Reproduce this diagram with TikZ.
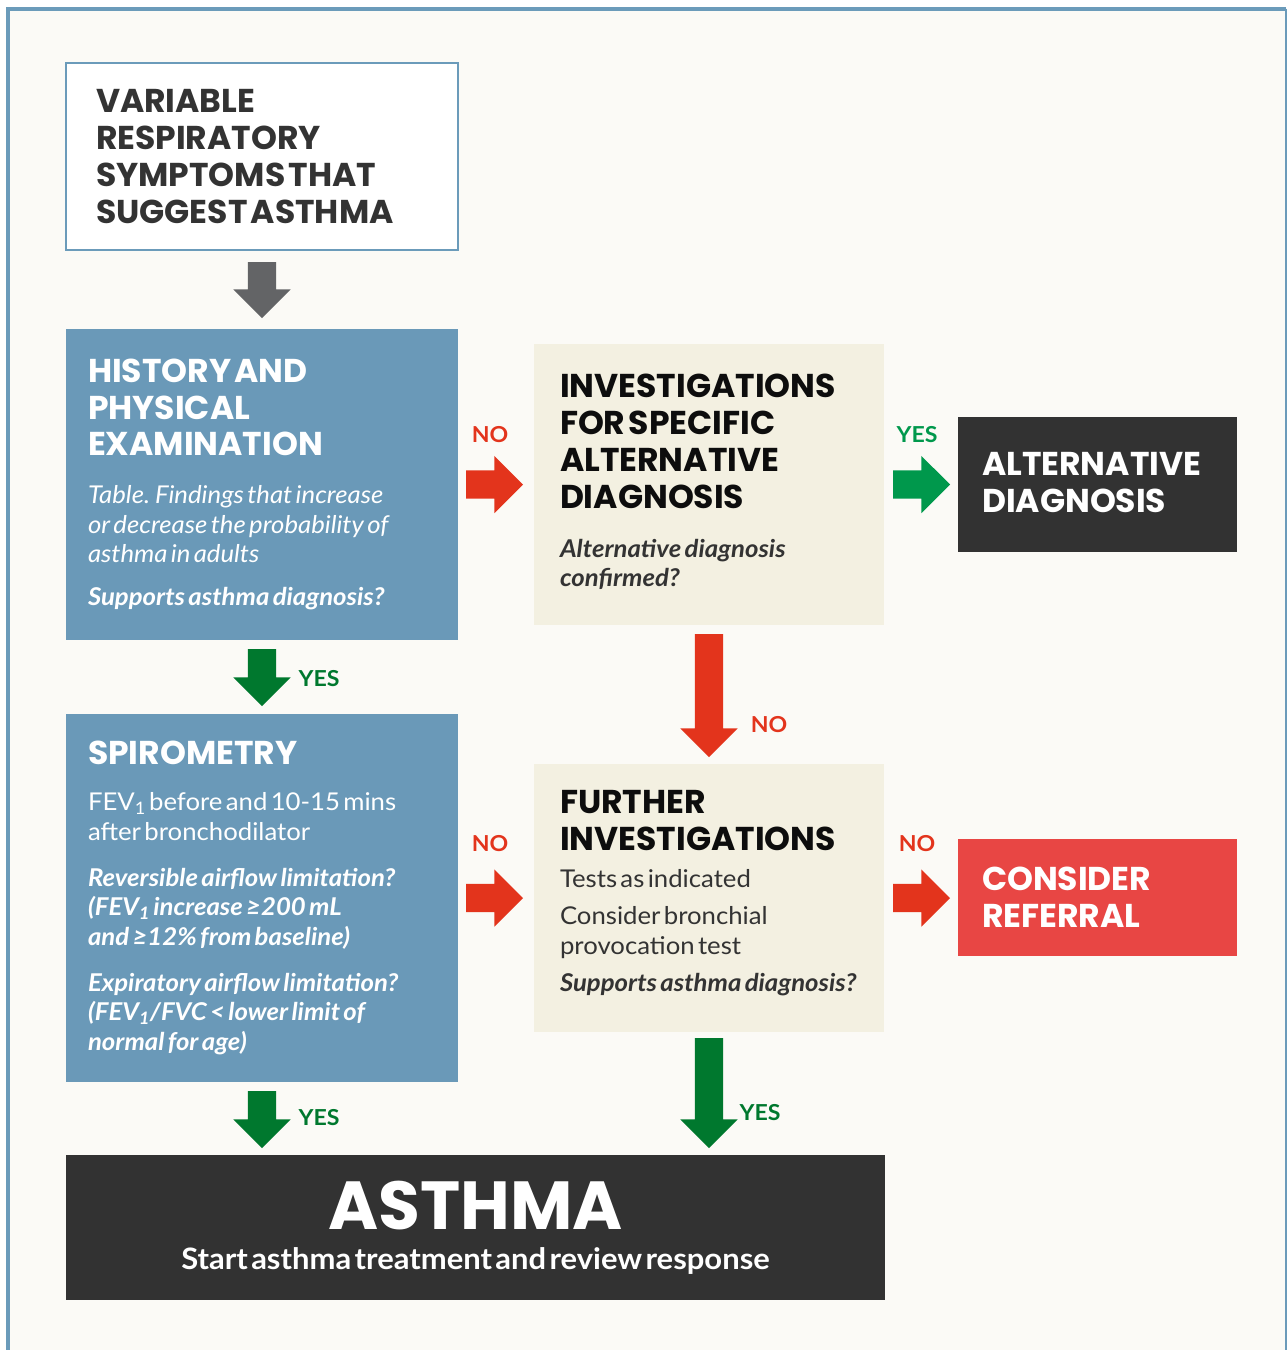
\documentclass[tikz,border=0pt]{standalone}
\usepackage{fontspec}
\setmainfont{Lato}[FakeStretch=1.05, WordSpace=1.6]
\newfontfamily\headfont{Poppins}[WordSpace=1.7]
\usetikzlibrary{shapes.arrows,calc}
\setlength{\parindent}{0pt}

\definecolor{frameblue}{HTML}{6B9BBA}
\definecolor{boxblue}{HTML}{6A99B8}
\definecolor{pagebg}{HTML}{FBFAF6}
\definecolor{cream}{HTML}{F3F0E1}
\definecolor{darkbox}{HTML}{323232}
\definecolor{refred}{HTML}{E84644}
\definecolor{nored}{HTML}{E3341C}
\definecolor{yesgreen}{HTML}{00782E}
\definecolor{altgreen}{HTML}{00984C}
\definecolor{arrowgray}{HTML}{636466}
\definecolor{inktext}{HTML}{333333}
\definecolor{inkblack}{HTML}{0D0D0D}

\newcommand{\headtxt}{\headfont\bfseries\fontsize{33}{36.8}\selectfont}
\newcommand{\bodytxt}{\fontsize{24.5}{29.5}\selectfont}

\begin{document}
\begin{tikzpicture}[x=1pt,y=-1pt]
        \tikzstyle{every node}=[outer sep=0pt]
        \tikzstyle{box}=[rectangle, anchor=north west, align=left, inner ysep=0pt]
        \tikzstyle{blockarrow}=[single arrow, anchor=tail, single arrow head extend=14.5pt, inner xsep=0pt, inner ysep=14pt, minimum width=57pt]
        \tikzstyle{lbl}=[font=\bfseries\fontsize{22}{22}\selectfont, inner sep=0pt]

        \useasboundingbox (0,0) rectangle (1287,1350);
        \fill[white] (0,0) rectangle (1287,1350);
        \fill[pagebg] (7,8) rectangle (1286,1350);
        \draw[frameblue, line width=4] (7.5,1350) -- (7.5,8.5) -- (1286,8.5);
        \draw[frameblue, line width=2] (1286,8.5) -- (1286,1350);

        \node[box, fill=white, draw=frameblue, line width=2, minimum width=392, minimum height=187, text width=332, inner xsep=30, text=inktext] (sym) at (66,63)
            {\headtxt VARIABLE\\ RESPIRATORY\\ SYMPTOMS THAT\\ SUGGEST ASTHMA\par};

        \node[box, fill=boxblue, text=white, minimum width=392, minimum height=311, text width=348, inner xsep=22] (hist) at (66,329)
            {{\headtxt HISTORY AND\\ PHYSICAL\\ EXAMINATION\par}
             \vspace{18.5pt}
             {\bodytxt\itshape Table. Findings that increase\\ or decrease the probability of\\ asthma in adults\par}
             \vspace{13.5pt}
             {\bodytxt\bfseries\itshape Supports asthma diagnosis?\par}};

        \node[box, fill=boxblue, text=white, minimum width=392, minimum height=368, text width=348, inner xsep=22] (spiro) at (66,714)
            {{\headtxt SPIROMETRY\par}
             \vspace{16.5pt}
             {\bodytxt FEV\textsubscript{1} before and 10-15 mins\\ after bronchodilator\par}
             \vspace{16.5pt}
             {\bodytxt\bfseries\itshape Reversible airflow limitation?\\ (FEV\textsubscript{1} increase ≥200 mL\\ and ≥12\% from baseline)\par}
             \vspace{16.5pt}
             {\bodytxt\bfseries\itshape Expiratory airflow limitation?\\ (FEV\textsubscript{1}/FVC < lower limit of\\ normal for age)\par}};

        \node[box, fill=cream, text=inkblack, minimum width=350, minimum height=281, text width=298, inner xsep=26] (inv) at (534,344)
            {{\headtxt INVESTIGATIONS\\ FOR SPECIFIC\\ ALTERNATIVE\\ DIAGNOSIS\par}
             \vspace{19.5pt}
             {\bodytxt\bfseries\itshape\leavevmode\color{inktext}Alternative diagnosis\\ confirmed?\par}
             \vspace*{5pt}};

        \node[box, fill=cream, text=inkblack, minimum width=350, minimum height=268, text width=304, inner xsep=23] (further) at (534,764)
            {{\headtxt\hspace*{3pt}FURTHER\\ \hspace*{3pt}INVESTIGATIONS\par}
             \vspace{7.5pt}
             {\bodytxt\leavevmode\color{inktext}\hspace*{3pt}Tests as indicated\par}
             \vspace{7.5pt}
             {\bodytxt\leavevmode\color{inktext}\hspace*{3pt}Consider bronchial\\ \hspace*{3pt}provocation test\par}
             \vspace{7.5pt}
             {\bodytxt\bfseries\itshape\leavevmode\color{inktext}\hspace*{3pt}Supports asthma diagnosis?\par}
             \vspace*{10pt}};

        \node[box, fill=darkbox, text=white, minimum width=279, minimum height=135, text width=231, inner xsep=24] (alt) at (958,417)
            {\headtxt ALTERNATIVE\\ DIAGNOSIS\par\vspace*{4pt}};

        \node[box, fill=refred, text=white, minimum width=279, minimum height=117, text width=231, inner xsep=24] (refer) at (958,839)
            {\headtxt CONSIDER\\ REFERRAL\par};

        \node[box, fill=darkbox, text=white, minimum width=819, minimum height=145, text width=819, inner xsep=0, align=center] (asthma) at (66,1155)
            {{\headfont\bfseries\fontsize{68}{68}\selectfont ASTHMA\par}
             \vspace{11pt}
             {\bfseries\fontsize{29.5}{29.5}\selectfont Start asthma treatment and review response\par}};

        % arrows between the boxes
        \node[blockarrow, fill=arrowgray, rotate=-90, minimum height=56] (a1) at ($(sym.south)+(0,12)$) {};
        \node[blockarrow, fill=yesgreen, rotate=-90, minimum height=57] (a2) at ($(hist.south)+(0,9)$) {};
        \node[blockarrow, fill=yesgreen, rotate=-90, minimum height=57] (a3) at ($(spiro.south)+(0,9)$) {};
        \node[blockarrow, fill=nored, rotate=-90, minimum height=123] (a4) at ($(inv.south)+(0,9)$) {};
        \node[blockarrow, fill=yesgreen, rotate=-90, minimum height=110] (a5) at ($(further.south)+(0,6)$) {};
        \node[blockarrow, fill=nored, minimum height=57] (r1) at ($(hist.east)+(8,0)$) {};
        \node[blockarrow, fill=altgreen, minimum height=57] (r2) at ($(inv.east)+(9,0)$) {};
        \node[blockarrow, fill=nored, minimum height=57] (r3) at ($(spiro.east)+(8,0)$) {};
        \node[blockarrow, fill=nored, minimum height=57] (r4) at ($(further.east)+(9,0)$) {};

        \node[lbl, text=nored] (no1) at (490,435) {NO};
        \node[lbl, text=altgreen] (yes1) at (917,435) {YES};
        \node[lbl, text=yesgreen] (yes2) at (319,679) {YES};
        \node[lbl, text=nored] (no2) at (769,725) {NO};
        \node[lbl, text=nored] (no3) at (490,844) {NO};
        \node[lbl, text=nored] (no4) at (917,844) {NO};
        \node[lbl, text=yesgreen] (yes3) at (319,1118) {YES};
        \node[lbl, text=yesgreen] (yes4) at (760,1113) {YES};
\end{tikzpicture}
\end{document}
